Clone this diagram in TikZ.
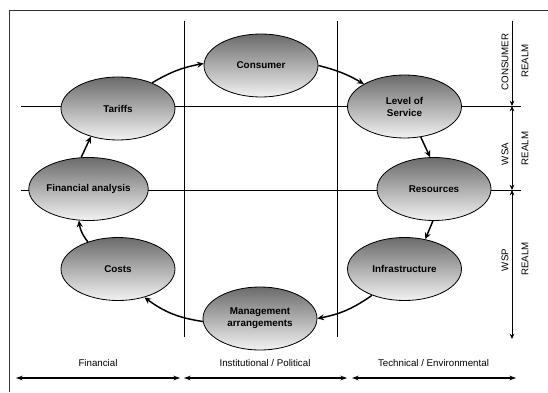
\documentclass[tikz,border=0pt]{standalone}
\usepackage{fontspec}
\setmainfont{Liberation Sans}
\usetikzlibrary{shapes.geometric}
\usetikzlibrary{arrows.meta}

\tikzset{
  stage/.style={ellipse, draw, line width=0.6pt, top color=black!58, bottom color=black!5,
    minimum width=85.5pt, minimum height=47.25pt, inner sep=0pt, align=center,
    font=\bfseries\fontsize{7.4}{9}\selectfont},
  flow/.style={-{Stealth[length=5pt,width=4.5pt]}, line width=1.1pt},
  realm/.style={{Stealth[length=4pt,width=3.5pt]}-{Stealth[length=4pt,width=3.5pt]}, line width=0.75pt},
  span/.style={{Stealth[length=5pt,width=3.5pt]}-{Stealth[length=5pt,width=3.5pt]}, line width=1pt},
  lbl/.style={font=\fontsize{7.3}{9}\selectfont, inner sep=0.75pt},
}

\begin{document}
\begin{tikzpicture}[x=0.75pt,y=0.75pt,yscale=-1,xscale=1]
\useasboundingbox (0,0) rectangle (548,392);
% frame and grid
\draw[line width=0.75pt, black!80] (9,392) -- (9,11) -- (548,11);
\draw (184,21) -- (184,337);
\draw (337,21) -- (337,337);
\draw (21,106) -- (521,106);
\draw (21,190) -- (521,190);
% stages
\node[stage] (consumer) at (261,65.5) {Consumer};
\node[stage] (service) at (404.5,106.5) {Level of\\Service};
\node[stage] (resources) at (434,189) {Resources};
\node[stage] (infra) at (404.5,269) {Infrastructure};
\node[stage] (mgmt) at (260,318.5) {Management\\arrangements};
\node[stage] (costs) at (118,269) {Costs};
\node[stage] (fin) at (88.5,189) {Financial analysis};
\node[stage] (tariffs) at (118,108.5) {Tariffs};
% cycle
\draw[flow] (tariffs.37) to[bend right=10] (consumer.178);
\draw[flow] (consumer.0) to[bend right=8] (service.151);
\draw[flow] (service.-62) -- (resources.97);
\draw[flow] (resources.-92) -- (infra.55);
\draw[flow] (infra.-141) to[bend right=12] (mgmt.0);
\draw[flow] (mgmt.183) to[bend right=14] (costs.-47);
\draw[flow] (costs.138) to[bend right=15] (fin.-107);
\draw[flow] (fin.103) -- (tariffs.-134);
% realms
\coordinate (r0) at (512,21);
\coordinate (r1) at (512,106);
\coordinate (r2) at (512,190);
\coordinate (r3) at (512,339);
\draw[line width=0.75pt, -{Stealth[length=4pt,width=3.5pt]}] (r0) -- (r1);
\draw[realm] (r1) -- (r2);
\draw[realm] (r2) -- (r3);
\node[lbl, rotate=90] (cons) at (505,62) {CONSUMER};
\node[lbl, rotate=90] (consr) at (525,61) {REALM};
\node[lbl, rotate=90] (wsa) at (505,154) {WSA};
\node[lbl, rotate=90] (wsar) at (525,148.5) {REALM};
\node[lbl, rotate=90] (wsp) at (505,260) {WSP};
\node[lbl, rotate=90] (wspr) at (525,259) {REALM};
% domains
\coordinate (b0) at (16,378);
\coordinate (b1) at (180,378);
\coordinate (b2) at (184,378);
\coordinate (b3) at (347,378);
\coordinate (b4) at (352,378);
\coordinate (b5) at (516,378);
\draw[span] (b0) -- (b1);
\draw[span] (b2) -- (b3);
\draw[span] (b4) -- (b5);
\node[lbl] (financial) at (98,363) {Financial};
\node[lbl] (inst) at (265,363) {Institutional / Political};
\node[lbl] (tech) at (433.5,363) {Technical / Environmental};
\end{tikzpicture}
\end{document}
